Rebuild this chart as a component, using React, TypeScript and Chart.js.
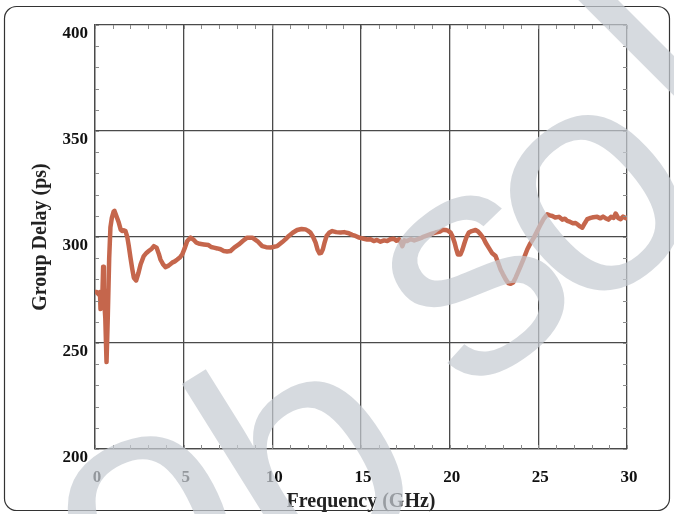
import React, { useEffect, useRef } from "react";
import { Chart, registerables } from "chart.js";

Chart.register(...registerables);

const frequencyGHz = [
  0.0, 0.1, 0.2, 0.28, 0.31, 0.36, 0.4, 0.46, 0.5, 0.54, 0.58, 0.65, 0.72, 0.8, 0.87, 0.95, 1.05, 1.1, 1.2, 1.34,
  1.45, 1.53, 1.62, 1.72, 1.82, 1.9, 2.0, 2.1, 2.19, 2.32, 2.45, 2.57, 2.75, 2.9, 3.03, 3.2, 3.32, 3.47, 3.6, 3.69,
  3.85, 3.97, 4.15, 4.35, 4.5, 4.64, 4.8, 4.92, 5.05, 5.2, 5.39, 5.55, 5.72, 5.9, 6.14, 6.4, 6.55, 6.7, 6.9, 7.08,
  7.26, 7.45, 7.64, 7.85, 8.11, 8.35, 8.58, 8.87, 9.15, 9.43, 9.65, 9.9, 10.1, 10.28, 10.56, 10.75, 10.93, 11.15, 11.4, 11.65,
  11.87, 12.0, 12.15, 12.3, 12.44, 12.55, 12.66, 12.75, 12.85, 12.95, 13.06, 13.2, 13.38, 13.6, 13.85, 14.05, 14.31, 14.5, 14.69, 14.9,
  15.16, 15.35, 15.54, 15.72, 15.9, 16.1, 16.3, 16.48, 16.65, 16.85, 17.0, 17.15, 17.25, 17.33, 17.45, 17.6, 17.8, 18.0, 18.17, 18.4,
  18.55, 18.74, 19.0, 19.2, 19.45, 19.6, 19.77, 19.9, 20.05, 20.15, 20.28, 20.38, 20.46, 20.61, 20.72, 20.84, 20.95, 21.08, 21.25, 21.46,
  21.6, 21.74, 21.9, 22.03, 22.2, 22.4, 22.59, 22.75, 22.87, 23.0, 23.16, 23.3, 23.44, 23.58, 23.72, 23.85, 24.0, 24.2, 24.38, 24.55,
  24.75, 24.95, 25.13, 25.3, 25.5, 25.65, 25.79, 25.95, 26.16, 26.35, 26.5, 26.63, 26.8, 26.95, 27.1, 27.2, 27.35, 27.48, 27.62, 27.76,
  27.95, 28.1, 28.32, 28.5, 28.65, 28.79, 28.95, 29.1, 29.25, 29.36, 29.5, 29.64, 29.78, 29.92, 30.0,
];

const groupDelayPs = [
  274, 274, 273, 274, 266, 272, 268, 286, 276, 267, 262, 241, 262, 290, 304.6, 309, 312, 312.3, 310, 306.8,
  303.5, 302.8, 303.2, 302.8, 300, 296, 290.3, 285, 280.8, 279.5, 283, 287, 291, 292.5, 293.4, 294.5, 295.7, 295, 292, 289.4,
  287, 285.8, 286.5, 287.9, 288.5, 289.4, 290.5, 291.8, 294.5, 298.1, 299.7, 298.8, 297.3, 296.8, 296.5, 296.2, 295.3, 295, 294.6, 294.2,
  293.4, 293.2, 293.4, 295, 296.5, 298.2, 299.7, 299.7, 298.1, 295.7, 295.2, 295, 295.4, 295.7, 297.6, 299, 300.5, 302, 303.3, 303.8,
  303.6, 303, 302.1, 300, 297.3, 294, 292.3, 292.5, 294.2, 297.5, 300.5, 302, 302.8, 302.3, 302.1, 302.3, 301.8, 301, 300.5, 299.7,
  299.2, 298.8, 298.9, 298.1, 298.6, 297.8, 298.4, 298.1, 298.9, 299.2, 298.2, 298.9, 297.5, 295.7, 298.4, 298.1, 299, 298.4, 298.9, 299.6,
  300.2, 300.8, 301.6, 302.1, 302.6, 303.4, 303.3, 303, 302.1, 300.5, 297.3, 294, 291.8, 291.8, 294, 297.3, 300, 302.1, 302.8, 303.3,
  302.6, 301.3, 299.5, 297.3, 295, 292.3, 291, 287.5, 284.7, 282.5, 280, 278.3, 277.9, 278.5, 280.8, 283.3, 286.3, 290.3, 294.2, 297,
  299.7, 303, 306, 308.5, 310.7, 310.2, 309.9, 309.2, 309.5, 308.2, 308.6, 307.6, 307.1, 306.5, 306.6, 306, 305, 304.4, 306.5, 308.4,
  309, 309.3, 309.5, 308.8, 309.6, 308.9, 308.2, 309.5, 309, 311.1, 309, 308.4, 309.6, 308.9, 309.2,
];

const xMin = 0;
const xMax = 30;
const xStep = 5;
const xMinorStep = 1;
const yMin = 200;
const yMax = 400;
const yStep = 50;
const yMinorStep = 10;

const xTitle = "Frequency (GHz)";
const yTitle = "Group Delay (ps)";
const watermarkText = "obsolete";

const SERIF = '"Liberation Serif", "Times New Roman", serif';

// watermark glyph placement: baseline-centre x, y and rotation (deg)
const WM_PLACE: [number, number, number][] = [
  [185, 602, -25],
  [362, 545, -32],
  [528, 352, -37],
  [650, 268, -40],
  [750, 152, -45],
  [860, 60, -48],
  [960, -30, -50],
  [1060, -120, -52],
];

export default function App() {
  const ref = useRef<HTMLCanvasElement>(null);

  useEffect(() => {
    const canvas = ref.current;
    if (!canvas) return;

    const decor = {
      id: "decor",
      afterDatasetsDraw(chart: any) {
        const { ctx, chartArea, scales } = chart;
        const xs = scales.x;
        const ys = scales.y;
        ctx.save();
        ctx.strokeStyle = "#8a8a8a";
        ctx.lineWidth = 1;
        const len = 4;
        for (let v = xMin; v <= xMax; v += xMinorStep) {
          const px = Math.round(xs.getPixelForValue(v)) + 0.5;
          ctx.beginPath();
          ctx.moveTo(px, chartArea.bottom);
          ctx.lineTo(px, chartArea.bottom - len);
          ctx.moveTo(px, chartArea.top);
          ctx.lineTo(px, chartArea.top + len);
          ctx.stroke();
        }
        for (let v = yMin; v <= yMax; v += yMinorStep) {
          const py = Math.round(ys.getPixelForValue(v)) + 0.5;
          ctx.beginPath();
          ctx.moveTo(chartArea.left, py);
          ctx.lineTo(chartArea.left + len, py);
          ctx.moveTo(chartArea.right, py);
          ctx.lineTo(chartArea.right - len, py);
          ctx.stroke();
        }
        ctx.restore();
      },
      afterDraw(chart: any) {
        const { ctx } = chart;
        ctx.save();
        ctx.strokeStyle = "#333";
        ctx.lineWidth = 1.2;
        const x0 = 4.5, y0 = 6.5, x1 = 669.5, y1 = 510.5, r = 12;
        ctx.beginPath();
        ctx.moveTo(x0 + r, y0);
        ctx.lineTo(x1 - r, y0);
        ctx.arcTo(x1, y0, x1, y0 + r, r);
        ctx.lineTo(x1, y1 - r);
        ctx.arcTo(x1, y1, x1 - r, y1, r);
        ctx.lineTo(x0 + r, y1);
        ctx.arcTo(x0, y1, x0, y1 - r, r);
        ctx.lineTo(x0, y0 + r);
        ctx.arcTo(x0, y0, x0 + r, y0, r);
        ctx.closePath();
        ctx.stroke();
        ctx.restore();

        ctx.save();
        ctx.font = '320px "Liberation Sans", Arial, sans-serif';
        ctx.fillStyle = "rgba(198,204,210,0.72)";
        ctx.textBaseline = "alphabetic";
        ctx.textAlign = "center";
        const chars = watermarkText.split("");
        chars.forEach((ch, i) => {
          const p = WM_PLACE[i];
          if (!p) return;
          ctx.save();
          ctx.translate(p[0], p[1]);
          ctx.rotate((p[2] * Math.PI) / 180);
          ctx.fillText(ch, 0, 0);
          ctx.restore();
        });
        ctx.restore();
      },
    };

    const chart = new Chart(canvas, {
      type: "scatter",
      data: {
        datasets: [
          {
            data: frequencyGHz.map((f, i) => ({ x: f, y: groupDelayPs[i] })),
            showLine: true,
            borderColor: "#c5664c",
            backgroundColor: "#c5664c",
            borderWidth: 4.5,
            pointRadius: 0,
            tension: 0,
            fill: false,
            borderJoinStyle: "round",
            borderCapStyle: "round",
          },
        ],
      },
      options: {
        responsive: false,
        animation: false,
        events: [],
        layout: { padding: { top: 25, right: 47, left: 0, bottom: 0 } },
        plugins: {
          legend: { display: false },
          tooltip: { enabled: false },
          title: { display: false },
        },
        scales: {
          x: {
            type: "linear",
            min: xMin,
            max: xMax,
            afterFit: (s: any) => {
              s.height = 65;
            },
            ticks: {
              stepSize: xStep,
              autoSkip: false,
              maxRotation: 0,
              padding: 18,
              labelOffset: 2,
              color: "#111",
              font: { family: SERIF, size: 17, weight: "bold" },
            },
            grid: { color: "#4a4a4a", lineWidth: 1.3, drawTicks: false },
            border: { display: true, color: "#4a4a4a", width: 1.3 },
            title: {
              display: true,
              text: xTitle,
              color: "#222",
              font: { family: SERIF, size: 20, weight: "bold" },
              padding: { top: 0, bottom: 0 },
            },
          },
          y: {
            type: "linear",
            min: yMin,
            max: yMax,
            afterFit: (s: any) => {
              s.width = 95;
            },
            ticks: {
              stepSize: yStep,
              padding: 7,
              labelOffset: 9,
              color: "#111",
              font: { family: SERIF, size: 17, weight: "bold" },
            },
            grid: { color: "#4a4a4a", lineWidth: 1.3, drawTicks: false },
            border: { display: true, color: "#4a4a4a", width: 1.3 },
            title: {
              display: true,
              text: yTitle,
              color: "#222",
              font: { family: SERIF, size: 20, weight: "bold" },
              padding: { top: 29, bottom: 0 },
            },
          },
        },
      },
      plugins: [decor],
    });

    return () => chart.destroy();
  }, []);

  return (
    <div style={{ position: "absolute", left: 0, top: 0, width: 674, height: 514, background: "#fff" }}>
      <canvas ref={ref} width={674} height={514} style={{ display: "block" }} />
    </div>
  );
}
